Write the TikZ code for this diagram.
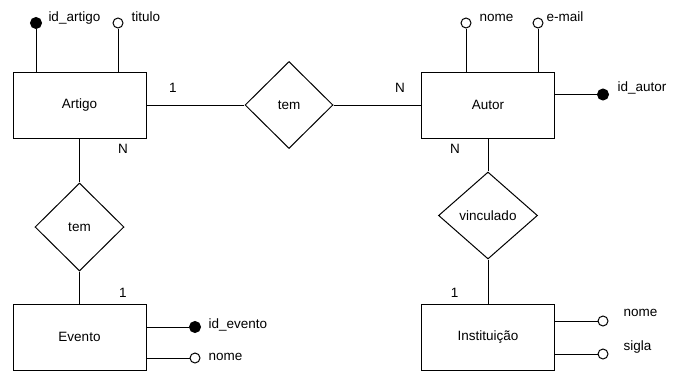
\documentclass[tikz,border=0pt]{standalone}
\usepackage{fontspec}
\setmainfont{Liberation Sans}
\usetikzlibrary{shapes.geometric}

\begin{document}
\begin{tikzpicture}[x=1pt, y=-1pt, line width=1pt,
  every node/.style={font=\fontsize{13.5}{15}\selectfont},
  entity/.style={draw, rectangle, minimum width=133pt, minimum height=66pt, inner sep=0pt},
  rel/.style={draw, diamond, inner sep=0pt},
  keyattr/.style={draw, circle, fill=black, minimum size=11pt, inner sep=0pt},
  plainattr/.style={draw, circle, fill=white, minimum size=10pt, inner sep=0pt},
  lbl/.style={anchor=base west, inner sep=0pt},
  card/.style={anchor=base, inner sep=0pt}]
\useasboundingbox (0,0) rectangle (677,372);

% entities
\node[entity] (artigo) at (79.5,105) {Artigo};
\node[entity] (autor)  at (488,105)  {Autor};
\node[entity] (evento) at (79.5,337) {Evento};
\node[entity] (inst)   at (488,337)  {Instituição};

% relationships
\node[rel, minimum width=88pt, minimum height=87pt] (tem1) at (289,105) {tem};
\node[rel, minimum width=89pt, minimum height=88pt] (tem2) at (79.5,227) {tem};
\node[rel, minimum width=99pt, minimum height=87pt] (vinc) at (488,215.5) {vinculado};

% relationship links
\draw (artigo) -- (tem1) -- (autor);
\draw (artigo) -- (tem2) -- (evento);
\draw (autor) -- (vinc) -- (inst);

% cardinalities
\node[card] (c1) at (173,92.7)  {1};
\node[card] (c2) at (400,92.7)  {N};
\node[card] (c3) at (123,153.5) {N};
\node[card] (c4) at (123,297.3) {1};
\node[card] (c5) at (455,153.5) {N};
\node[card] (c6) at (454.5,297.3) {1};

% attributes of Artigo
\node[keyattr]   (idartigo) at (36,23) {};
\node[plainattr] (titulo)   at (118,23) {};
\draw (idartigo) -- (idartigo |- artigo.north);
\draw (titulo) -- (titulo |- artigo.north);
\node[lbl] (lidartigo) at (48,21.5) {id\_artigo};
\node[lbl] (ltitulo)   at (131,21.5) {titulo};

% attributes of Autor
\node[plainattr] (anome)   at (466,23) {};
\node[plainattr] (email)   at (538,23) {};
\node[keyattr]   (idautor) at (603,94.5) {};
\draw (anome) -- (anome |- autor.north);
\draw (email) -- (email |- autor.north);
\draw (idautor) -- (idautor -| autor.east);
\node[lbl] (lanome)   at (479,21) {nome};
\node[lbl] (lemail)   at (546,21) {e-mail};
\node[lbl] (lidautor) at (617,91.7) {id\_autor};

% attributes of Evento
\node[keyattr]   (idevento) at (195,327) {};
\node[plainattr] (enome)    at (195,358) {};
\draw (idevento) -- (idevento -| evento.east);
\draw (enome) -- (enome -| evento.east);
\node[lbl] (lidevento) at (208,328) {id\_evento};
\node[lbl] (lenome)    at (208,360) {nome};

% attributes of Instituição
\node[plainattr] (inome) at (603,321) {};
\node[plainattr] (sigla) at (603,354) {};
\draw (inome) -- (inome -| inst.east);
\draw (sigla) -- (sigla -| inst.east);
\node[lbl] (linome) at (623,316.7) {nome};
\node[lbl] (lsigla) at (623,350.7) {sigla};
\end{tikzpicture}
\end{document}
